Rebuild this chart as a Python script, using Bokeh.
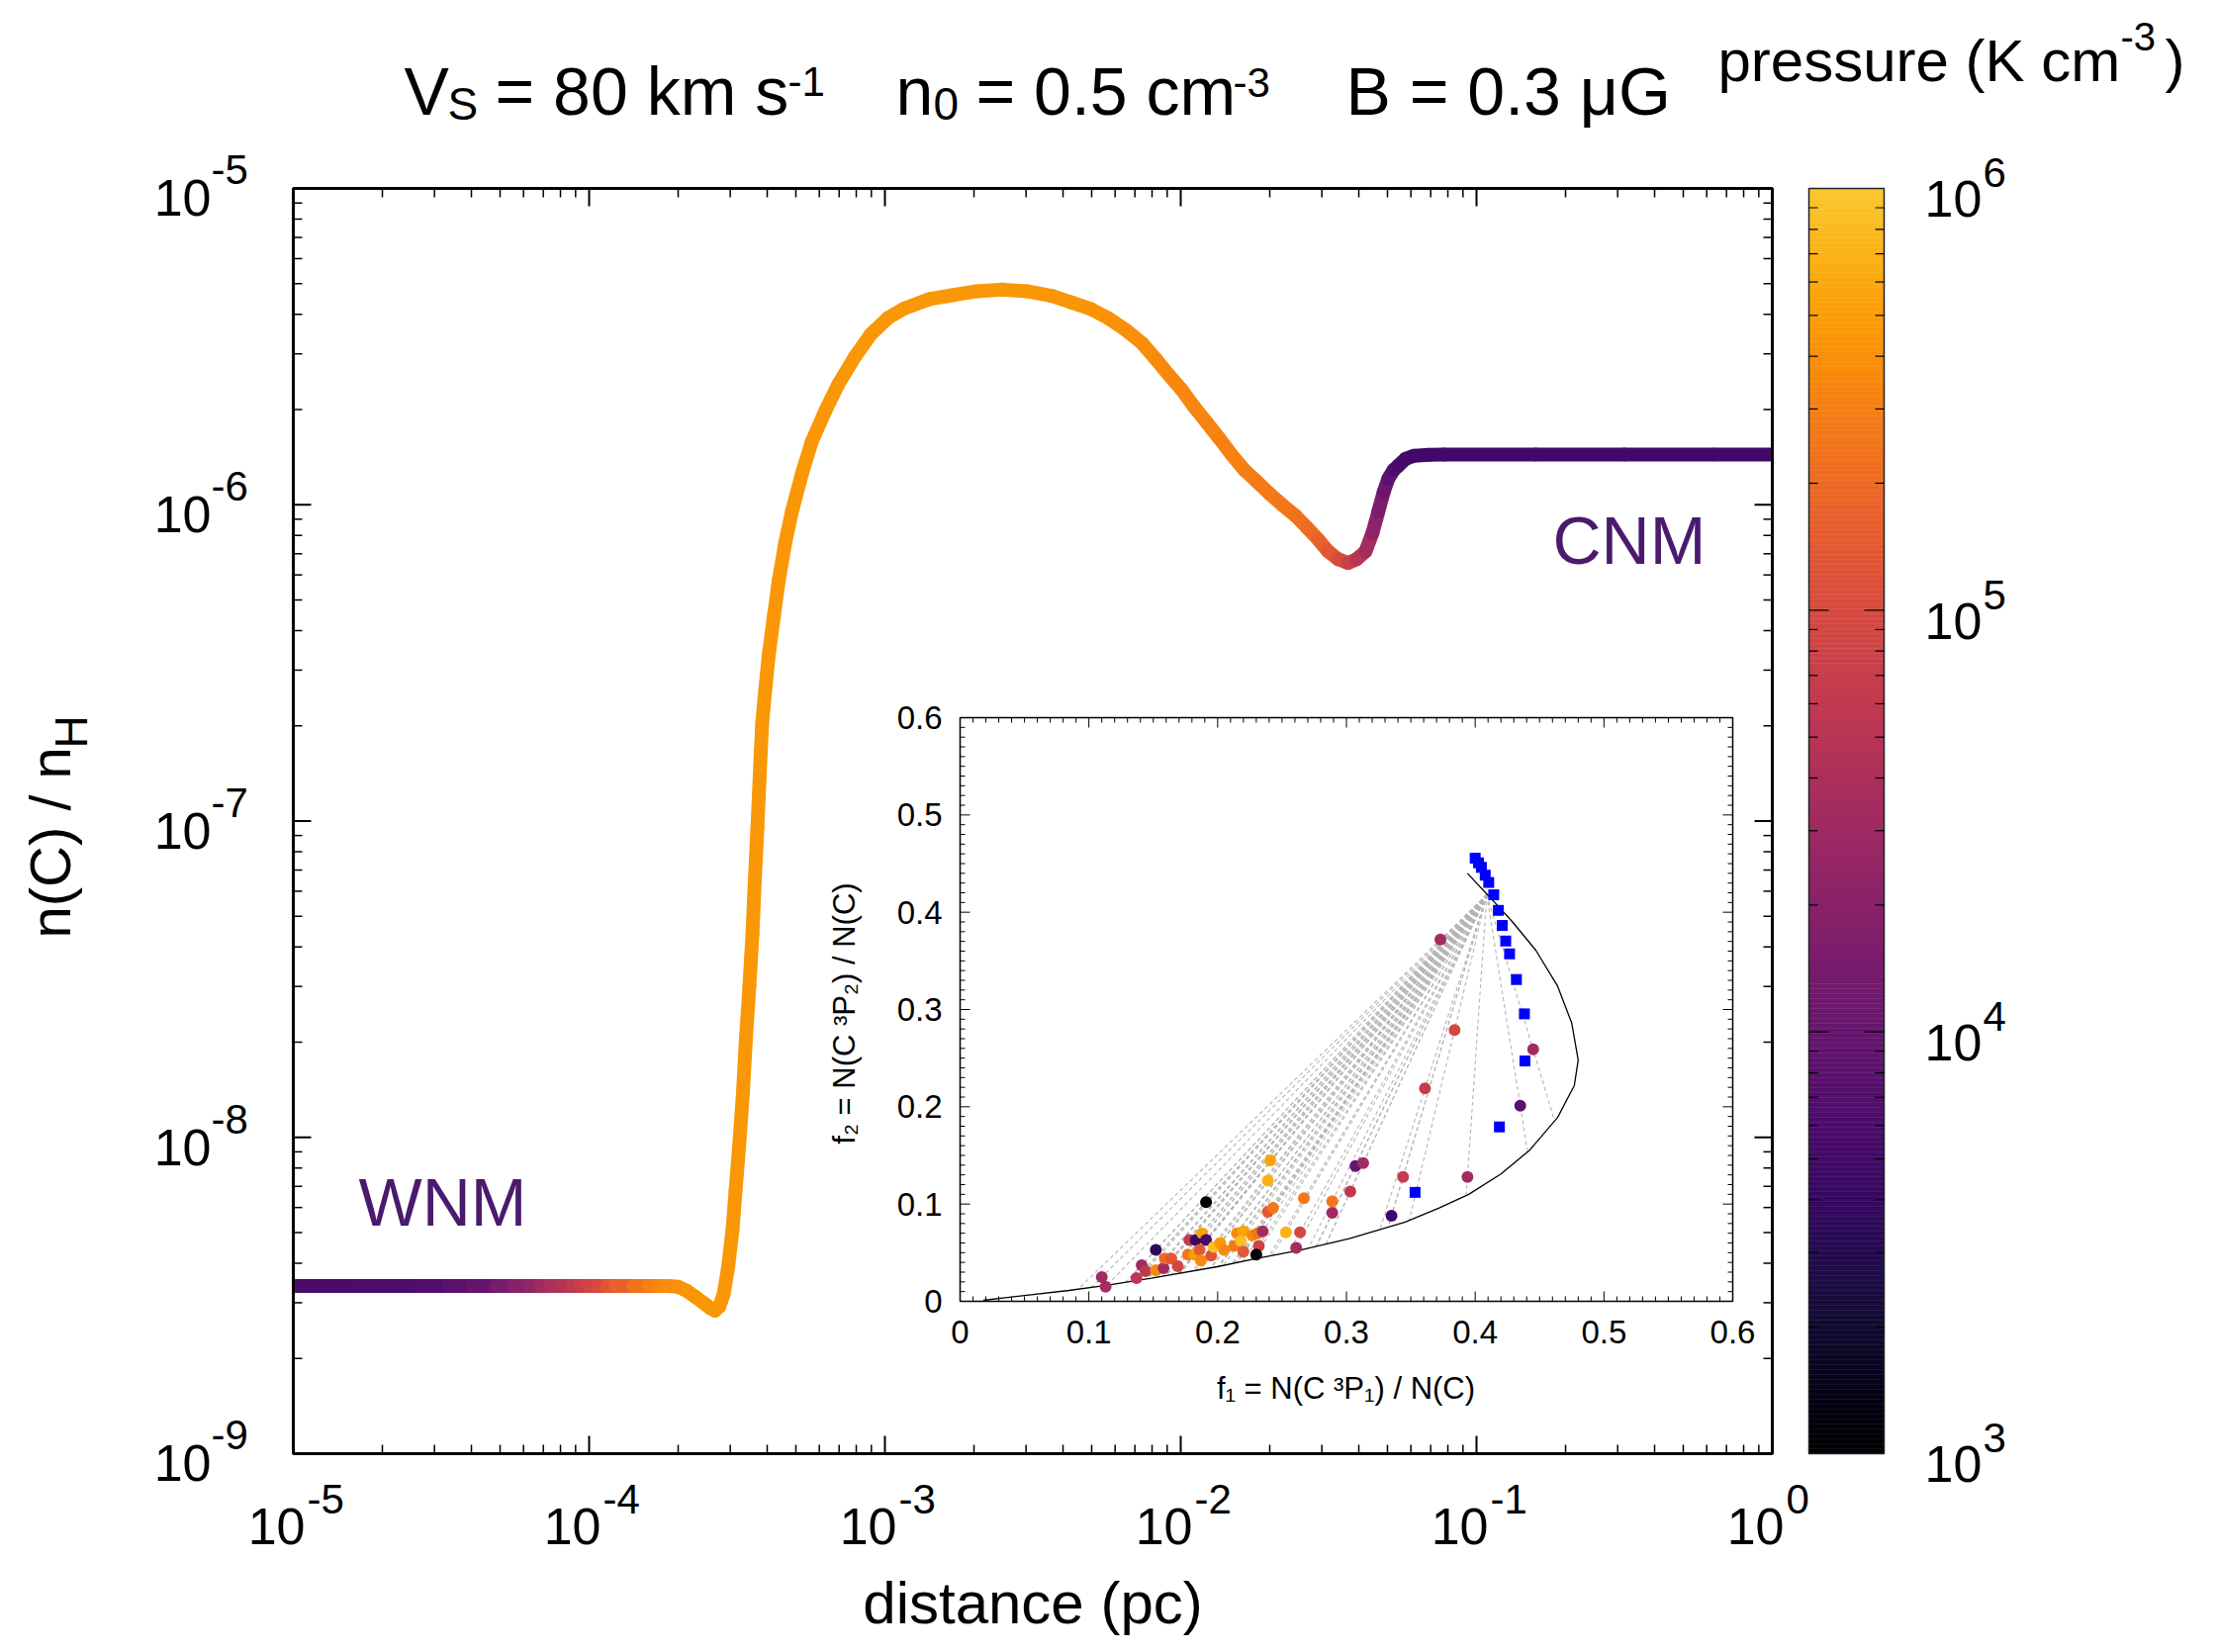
import numpy as np
from bokeh.plotting import figure
from bokeh.models import (ColumnDataSource, LogColorMapper, LinearScale, LogScale, Range1d)
from bokeh.palettes import Inferno256
from bokeh.embed import file_html
from bokeh.resources import INLINE
from bokeh.core.properties import value

# ---------------- data ----------------
# main curve: log10 distance (pc), log10 n(C)/nH, pressure (K cm^-3)
log_distance = [-5.000, -4.806, -4.686, -4.590, -4.477, -4.393, -4.315, -4.255, -4.202, -4.166,
                -4.130, -4.088, -4.060, -4.029, -4.000, -3.969, -3.940, -3.910, -3.850, -3.800,
                -3.766, -3.733, -3.700, -3.670, -3.640, -3.611, -3.590, -3.575, -3.560, -3.545,
                -3.530, -3.515, -3.505, -3.493, -3.480, -3.470, -3.458, -3.448, -3.440, -3.431,
                -3.423, -3.415, -3.403, -3.392, -3.375, -3.359, -3.337, -3.314, -3.280, -3.247,
                -3.200, -3.158, -3.100, -3.047, -2.990, -2.936, -2.850, -2.769, -2.690, -2.602,
                -2.520, -2.435, -2.370, -2.304, -2.245, -2.185, -2.130, -2.082, -2.040, -1.997,
                -1.955, -1.912, -1.870, -1.826, -1.785, -1.741, -1.700, -1.656, -1.612, -1.571,
                -1.535, -1.502, -1.468, -1.434, -1.405, -1.375, -1.352, -1.332, -1.314, -1.298,
                -1.280, -1.264, -1.240, -1.212, -1.160, -1.110, -0.800, -0.500, -0.200, 0.000]
log_abundance = [-8.470] * 22 + [
                -8.472, -8.485, -8.505, -8.525, -8.540, -8.548, -8.535, -8.495,
                -8.410, -8.290, -8.170, -8.030, -7.860, -7.690, -7.520, -7.360, -7.190, -7.020,
                -6.850, -6.690, -6.570, -6.470, -6.350, -6.240, -6.120, -6.020, -5.900, -5.800,
                -5.700, -5.620, -5.530, -5.460, -5.410, -5.380, -5.350, -5.337, -5.325, -5.320,
                -5.325, -5.340, -5.360, -5.381, -5.410, -5.448, -5.490, -5.542, -5.590, -5.636,
                -5.690, -5.740, -5.790, -5.844, -5.890, -5.928, -5.965, -6.001, -6.035, -6.074,
                -6.110, -6.147, -6.172, -6.184, -6.172, -6.147, -6.090, -6.022, -5.960, -5.917,
                -5.890, -5.876, -5.855, -5.845, -5.842, -5.841, -5.841, -5.841, -5.841, -5.841]
pressure = [5.8e3, 5.9e3, 6.0e3, 6.6e3, 7.9e3, 1.0e4, 1.4e4, 1.9e4, 2.4e4, 3.2e4,
            3.9e4, 4.8e4, 5.8e4, 7.0e4, 8.5e4, 1.0e5, 1.3e5, 1.7e5, 2.4e5, 3.0e5,
            3.5e5, 3.8e5, 4.2e5, 4.3e5, 4.4e5, 4.5e5, 4.5e5, 4.5e5, 4.5e5, 4.5e5,
            4.5e5, 4.5e5, 4.5e5, 4.5e5, 4.5e5, 4.5e5, 4.5e5, 4.5e5, 4.5e5, 4.5e5,
            4.5e5, 4.5e5, 4.5e5, 4.5e5, 4.5e5, 4.5e5, 4.5e5, 4.5e5, 4.5e5, 4.5e5,
            4.5e5, 4.5e5, 4.5e5, 4.5e5, 4.5e5, 4.5e5, 4.5e5, 4.5e5, 4.5e5, 4.5e5,
            4.5e5, 4.4e5, 4.4e5, 4.3e5, 4.2e5, 4.0e5, 3.8e5, 3.6e5, 3.5e5, 3.4e5,
            3.3e5, 3.2e5, 3.1e5, 3.0e5, 2.9e5, 2.8e5, 2.7e5, 2.6e5, 2.4e5, 2.1e5,
            1.7e5, 1.35e5, 1.0e5, 7.0e4, 5.0e4, 3.4e4, 2.2e4, 1.5e4, 1.1e4, 8.0e3,
            6.5e3, 5.6e3, 5.2e3, 5.0e3, 4.9e3, 4.9e3, 4.9e3, 4.9e3, 4.9e3, 4.9e3]

# inset: theoretical f1-f2 relation
theory_f1 = [0.018, 0.050, 0.0845, 0.1135, 0.1485, 0.1997, 0.2305, 0.2637, 0.3022, 0.3457,
             0.372, 0.395, 0.420, 0.442, 0.464, 0.477, 0.480, 0.475, 0.464, 0.447, 0.429, 0.411, 0.394]
theory_f2 = [0.001, 0.006, 0.0112, 0.0163, 0.0237, 0.0356, 0.0441, 0.0526, 0.0644, 0.0814,
             0.096, 0.110, 0.131, 0.155, 0.189, 0.222, 0.248, 0.286, 0.324, 0.361, 0.390, 0.416, 0.440]
# inset: model points (blue squares)
model_f1 = [0.400, 0.4026, 0.4048, 0.4078, 0.4105, 0.4144, 0.4180, 0.4210, 0.4237, 0.4267,
            0.4320, 0.4382, 0.4386, 0.4188, 0.3533]
model_f2 = [0.4555, 0.4508, 0.4461, 0.4381, 0.4306, 0.4179, 0.4019, 0.3864, 0.3704, 0.3572,
            0.3308, 0.2955, 0.2471, 0.1793, 0.1120]
# inset: observations (circles) coloured by pressure
obs_f1 = [0.110, 0.113, 0.137, 0.141, 0.144, 0.152, 0.152, 0.158, 0.159, 0.164,
          0.169, 0.178, 0.183, 0.188, 0.191, 0.191, 0.177, 0.182, 0.186, 0.187,
          0.195, 0.197, 0.202, 0.205, 0.213, 0.215, 0.220, 0.218, 0.220, 0.227,
          0.231, 0.235, 0.232, 0.230, 0.241, 0.239, 0.239, 0.243, 0.253, 0.264,
          0.261, 0.267, 0.289, 0.289, 0.303, 0.307, 0.313, 0.335, 0.344, 0.373,
          0.384, 0.361, 0.445, 0.435, 0.394]
obs_f2 = [0.025, 0.015, 0.024, 0.037, 0.031, 0.053, 0.032, 0.034, 0.044, 0.044,
          0.036, 0.063, 0.063, 0.070, 0.063, 0.102, 0.048, 0.048, 0.053, 0.042,
          0.047, 0.056, 0.060, 0.053, 0.057, 0.070, 0.072, 0.062, 0.051, 0.068,
          0.070, 0.072, 0.057, 0.048, 0.145, 0.124, 0.092, 0.096, 0.071, 0.071,
          0.055, 0.106, 0.103, 0.091, 0.113, 0.139, 0.142, 0.088, 0.128, 0.372,
          0.279, 0.219, 0.259, 0.201, 0.128]
obs_p = [3.2e4, 3.4e4, 5.7e4, 3.2e4, 5.7e4, 3.3e3, 3.7e5, 3.2e4, 2.0e5, 1.4e5,
         9.2e4, 6.4e4, 4.2e3, 5.7e5, 5.8e3, 1.0e3, 2.6e5, 4.8e5, 1.4e5, 3.7e5,
         1.2e5, 8.5e5, 4.8e5, 3.7e5, 2.6e5, 3.7e5, 5.7e5, 8.5e5, 1.4e5, 3.7e5,
         2.6e5, 3.4e4, 8.3e4, 1.0e3, 5.7e5, 7.0e5, 1.4e5, 2.6e5, 7.0e5, 9.2e4,
         3.4e4, 2.6e5, 2.6e5, 3.2e4, 5.7e4, 1.0e4, 3.2e4, 4.9e3, 6.4e4, 3.4e4,
         9.2e4, 6.4e4, 3.2e4, 7.9e3, 3.2e4]
apex_f1, apex_f2 = 0.409, 0.418   # common high-pressure end point of mixing lines

x_exponents = [-5, -4, -3, -2, -1, 0]
y_exponents = [-9, -8, -7, -6, -5]
cb_exponents = [3, 4, 5, 6]
inset_ticks = [0.0, 0.1, 0.2, 0.3, 0.4, 0.5, 0.6]
inset_tick_labels = ["0", "0.1", "0.2", "0.3", "0.4", "0.5", "0.6"]

# ---------------- layout (page pixel coordinates, y downwards) ----------------
FONT = "Liberation Sans"
W, H = 2233, 1662
FL, FT, FR, FB = 296, 190, 1791, 1469          # main frame
IL, IR, IT, IB = 970, 1751, 725, 1315          # inset frame
CL, CR = 1828, 1904                            # colour bar
FW, FH = FR - FL, FB - FT

p = figure(width=W, height=H, x_range=Range1d(0, W), y_range=Range1d(H, 0),
           min_border=0, min_border_left=0, min_border_right=0, min_border_top=0,
           min_border_bottom=0, x_axis_location=None, y_axis_location=None,
           output_backend="svg", toolbar_location=None)
p.outline_line_color = None
p.background_fill_color = "white"
p.border_fill_color = "white"
p.grid.visible = False

PXD = FW / 5.0     # px per decade (x)
PYD = FH / 4.0     # px per decade (y)
PCD = FH / 3.0     # px per decade (colour bar)
sxp = (IR - IL) / 0.6
syp = (IB - IT) / 0.6
p.extra_x_ranges = {"mx": Range1d(10 ** (-5 - FL / PXD), 10 ** (0 + (W - FR) / PXD)),
                    "ix": Range1d(-IL / sxp, 0.6 + (W - IR) / sxp)}
p.extra_x_scales = {"mx": LogScale(), "ix": LinearScale()}
p.extra_y_ranges = {"my": Range1d(10 ** (-9 - (H - FB) / PYD), 10 ** (-5 + FT / PYD)),
                    "cb": Range1d(10 ** (3 - (H - FB) / PCD), 10 ** (6 + FT / PCD)),
                    "iy": Range1d(-(H - IB) / syp, 0.6 + IT / syp)}
p.extra_y_scales = {"my": LogScale(), "cb": LogScale(), "iy": LinearScale()}
MR = dict(x_range_name="mx", y_range_name="my")
IR_ = dict(x_range_name="ix", y_range_name="iy")

mapper = LogColorMapper(palette=Inferno256[:223], low=1e3, high=1e6)


def txt(x, y, s, size, align="left", baseline="alphabetic", color="black", angle=0.0,
        x_offset=0.0, y_offset=0.0, **kw):
    # the anchor (x, y) is the text baseline; rendered with a central baseline, shifted
    if baseline == "alphabetic":
        baseline = "middle"
        if angle == 0.0:
            y_offset -= 0.35 * size
        else:
            x_offset -= 0.35 * size
    p.text(x=x if isinstance(x, list) else [x], y=y if isinstance(y, list) else [y],
           text=s if isinstance(s, list) else [s], text_font=value(FONT),
           text_font_size=f"{size}px", text_align=align, text_baseline=baseline,
           text_color=color, angle=angle, x_offset=x_offset, y_offset=y_offset, **kw)


# ---------------- main curve, coloured by pressure ----------------
lx = np.array(log_distance)
ly = np.array(log_abundance)
seg = dict(x0=10 ** lx[:-1], y0=10 ** ly[:-1], x1=10 ** lx[1:], y1=10 ** ly[1:], pr=np.array(pressure[:-1]))
inner = ColumnDataSource({k: v[1:-1] for k, v in seg.items()})
ends = ColumnDataSource({k: v[[0, -1]] for k, v in seg.items()})
p.segment(x0="x0", y0="y0", x1="x1", y1="y1", source=inner, line_width=14,
          line_color={"field": "pr", "transform": mapper}, line_cap="round", **MR)
p.segment(x0="x0", y0="y0", x1="x1", y1="y1", source=ends, line_width=14,
          line_color={"field": "pr", "transform": mapper}, line_cap="butt", **MR)

# ---------------- main frame and ticks ----------------
p.quad(left=[FL], right=[FR], top=[FT], bottom=[FB], fill_color=None, line_color="black",
       line_width=3)
xmaj = [10.0 ** e for e in x_exponents]
xmin = [m * 10.0 ** e for e in x_exponents[:-1] for m in range(2, 10)]
ymaj = [10.0 ** e for e in y_exponents]
ymin = [m * 10.0 ** e for e in y_exponents[:-1] for m in range(2, 10)]
for vals, L, lw in ((xmaj, 18, 2), (xmin, 9, 1.5)):
    p.segment(x0=vals * 2, x1=vals * 2, y0=[FB] * len(vals) + [FT] * len(vals),
              y1=[FB - L] * len(vals) + [FT + L] * len(vals), line_color="black",
              line_width=lw, x_range_name="mx")
for vals, L, lw in ((ymaj, 18, 2), (ymin, 9, 1.5)):
    p.segment(y0=vals * 2, y1=vals * 2, x0=[FL] * len(vals) + [FR] * len(vals),
              x1=[FL + L] * len(vals) + [FR - L] * len(vals), line_color="black",
              line_width=lw, y_range_name="my")

# tick labels
txt(xmaj, [1561] * 6, ["10"] * 6, 52, align="right", x_offset=12, x_range_name="mx")
txt(xmaj, [1530] * 6, [str(e) for e in x_exponents], 42, x_offset=14, x_range_name="mx")
txt([213] * 5, ymaj, ["10"] * 5, 52, align="right", y_offset=28, y_range_name="my")
txt([213] * 5, ymaj, [str(e) for e in y_exponents], 42, y_offset=-4, y_range_name="my")

# ---------------- colour bar ----------------
levels = np.linspace(3.0, 6.0, 257)
cbsrc = ColumnDataSource(dict(bottom=10 ** levels[:-1], top=10 ** levels[1:],
                              mid=10 ** (0.5 * (levels[:-1] + levels[1:]))))
p.quad(left=CL, right=CR, bottom="bottom", top="top", source=cbsrc,
       fill_color={"field": "mid", "transform": mapper},
       line_color={"field": "mid", "transform": mapper}, line_width=0.5,
       y_range_name="cb")
p.quad(left=[CL], right=[CR], bottom=[1e3], top=[1e6], fill_color=None, line_color="#222222",
       line_width=1.5, y_range_name="cb")
cmaj = [10.0 ** e for e in cb_exponents]
cmin = [m * 10.0 ** e for e in cb_exponents[:-1] for m in range(2, 10)]
for vals, L in ((cmaj[1:-1], 20), (cmin, 9)):
    p.segment(y0=vals * 2, y1=vals * 2, x0=[CL] * len(vals) + [CR] * len(vals),
              x1=[CL + L] * len(vals) + [CR - L] * len(vals), line_color="black",
              line_width=1.2, y_range_name="cb")
txt([1945] * 4, cmaj, ["10"] * 4, 52, y_offset=29, y_range_name="cb")
txt([2004] * 4, cmaj, [str(e) for e in cb_exponents], 42, y_offset=-1, y_range_name="cb")

# ---------------- inset ----------------
p.quad(left=[0], right=[0.6], bottom=[0], top=[0.6], fill_color="white", line_color=None, **IR_)
minor = [round(v, 2) for v in np.arange(0.0, 0.6001, 0.01) if round(v * 100) % 10 != 0]
tx0, ty0, tx1, ty1 = [], [], [], []
for vals, L in ((inset_ticks, 10), (minor, 5)):
    for v in vals:
        tx0 += [v, v]; tx1 += [v, v]
        ty0 += [0, 0.6]; ty1 += [L / syp, 0.6 - L / syp]
        ty0 += [v, v]; ty1 += [v, v]
        tx0 += [0, 0.6]; tx1 += [L / sxp, 0.6 - L / sxp]
p.segment(x0=tx0, y0=ty0, x1=tx1, y1=ty1, line_color="black", line_width=1, **IR_)

# mixing lines from apex through each observation to the theoretical curve
cx_arr, cy_arr = np.array(theory_f1), np.array(theory_f2)
lx0, ly0, lx1, ly1 = [], [], [], []
for ox, oy in zip(obs_f1, obs_f2):
    dx, dy = ox - apex_f1, oy - apex_f2
    best = None
    for i in range(len(cx_arr) - 1):
        ex, ey = cx_arr[i + 1] - cx_arr[i], cy_arr[i + 1] - cy_arr[i]
        det = -dx * ey + ex * dy
        if abs(det) < 1e-12:
            continue
        rx, ry = cx_arr[i] - apex_f1, cy_arr[i] - apex_f2
        t = (rx * (-ey) + ex * ry) / det
        s = (dx * ry - dy * rx) / det
        if 0 <= s <= 1 and t > 1.0 and (best is None or t < best):
            best = t
    t = best if best is not None else 1.0
    lx0.append(apex_f1); ly0.append(apex_f2)
    lx1.append(apex_f1 + t * dx); ly1.append(apex_f2 + t * dy)
p.segment(x0=lx0, y0=ly0, x1=lx1, y1=ly1, line_color="#b5b5b5", line_width=1.1,
          line_dash="4 3", **IR_)

p.line(theory_f1, theory_f2, line_color="black", line_width=1.3, **IR_)
p.scatter(x="x", y="y", size=12, marker="circle", line_color=None,
          fill_color={"field": "pr", "transform": mapper},
          source=ColumnDataSource(dict(x=obs_f1, y=obs_f2, pr=obs_p)), **IR_)
p.scatter(model_f1, model_f2, size=11, marker="square", fill_color="#0000ff",
          line_color=None, **IR_)
p.quad(left=[0], right=[0.6], bottom=[0], top=[0.6], fill_color=None, line_color="black",
       line_width=1.5, **IR_)

txt(inset_ticks, [1358] * 7, inset_tick_labels, 33, align="center", x_range_name="ix")
txt([952] * 7, inset_ticks, inset_tick_labels, 33, align="right", baseline="middle",
    y_range_name="iy")
txt(1360, 1414, "f\u2081 = N(C \u00b3P\u2081) / N(C)", 31, align="center")
txt(853, 1024, "f\u2082 = N(C \u00b3P\u2082) / N(C)", 31, align="center", baseline="middle",
    angle=np.pi / 2)

# ---------------- titles and labels ----------------
txt(408, 115, "V", 68)
txt(452, 121, "S", 46)
txt(500, 115, "= 80 km s", 68)
txt(796, 97, "-1", 42)
txt(905, 115, "n", 68)
txt(943, 121, "0", 46)
txt(986, 115, "= 0.5 cm", 68)
txt(1246, 98, "-3", 42)
txt(1360, 115, "B = 0.3 \u03bcG", 68)

txt(1736, 82, "pressure (K cm", 60)
txt(2143, 50, "-3", 40)
txt(2188, 82, ")", 60)

txt((FL + FR) / 2, 1641, "distance (pc)", 60, align="center")
txt(70, 948, "n(C) / n", 58, angle=np.pi / 2)
txt(88, 756, "H", 46, angle=np.pi / 2)

txt(362, 1238, "WNM", 68, color="#4a1a6e")
txt(1569, 569, "CNM", 68, color="#4a1a6e")

open("out.html", "w").write(file_html(p, INLINE))
